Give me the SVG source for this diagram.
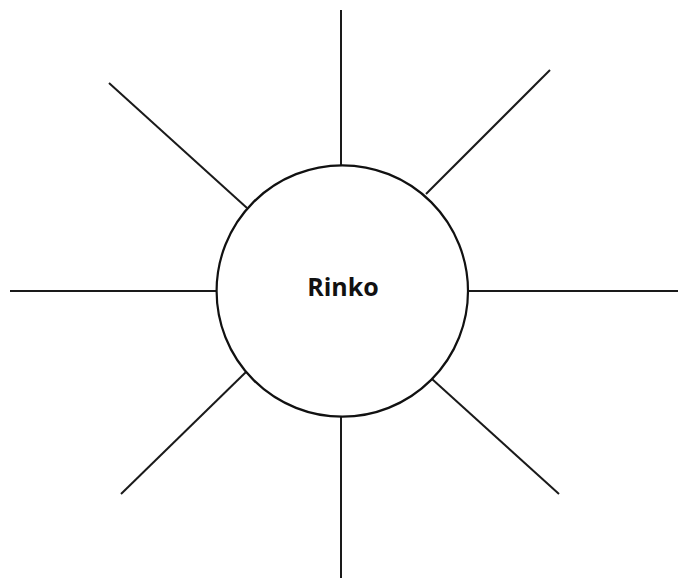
<svg xmlns="http://www.w3.org/2000/svg" width="679" height="579" viewBox="0 0 679 579">
<style>
.c{stroke:#1a1a1a;stroke-width:2;fill:none}
.n{fill:#fff;stroke:#111;stroke-width:2.2}
.t{font-family:"Open Sans","Noto Sans",sans-serif;font-weight:bold;font-size:25px;fill:#111;text-anchor:middle}
</style>
<rect width="679" height="579" fill="#fff"/>
<g id="connectors">
<line class="c" x1="341" y1="10" x2="341" y2="165"/>
<line class="c" x1="341" y1="417" x2="341" y2="578"/>
<line class="c" x1="10" y1="291" x2="217" y2="291"/>
<line class="c" x1="468" y1="291" x2="678" y2="291"/>
<line class="c" x1="109" y1="83" x2="247" y2="208"/>
<line class="c" x1="550" y1="70" x2="426" y2="194"/>
<line class="c" x1="121" y1="494" x2="246" y2="372"/>
<line class="c" x1="559" y1="494" x2="432" y2="379"/>
</g>
<g id="rinko">
<circle class="n" cx="342.3" cy="291" r="125.7"/>
<text class="t" x="343" y="296">Rinko</text>
</g>
</svg>
